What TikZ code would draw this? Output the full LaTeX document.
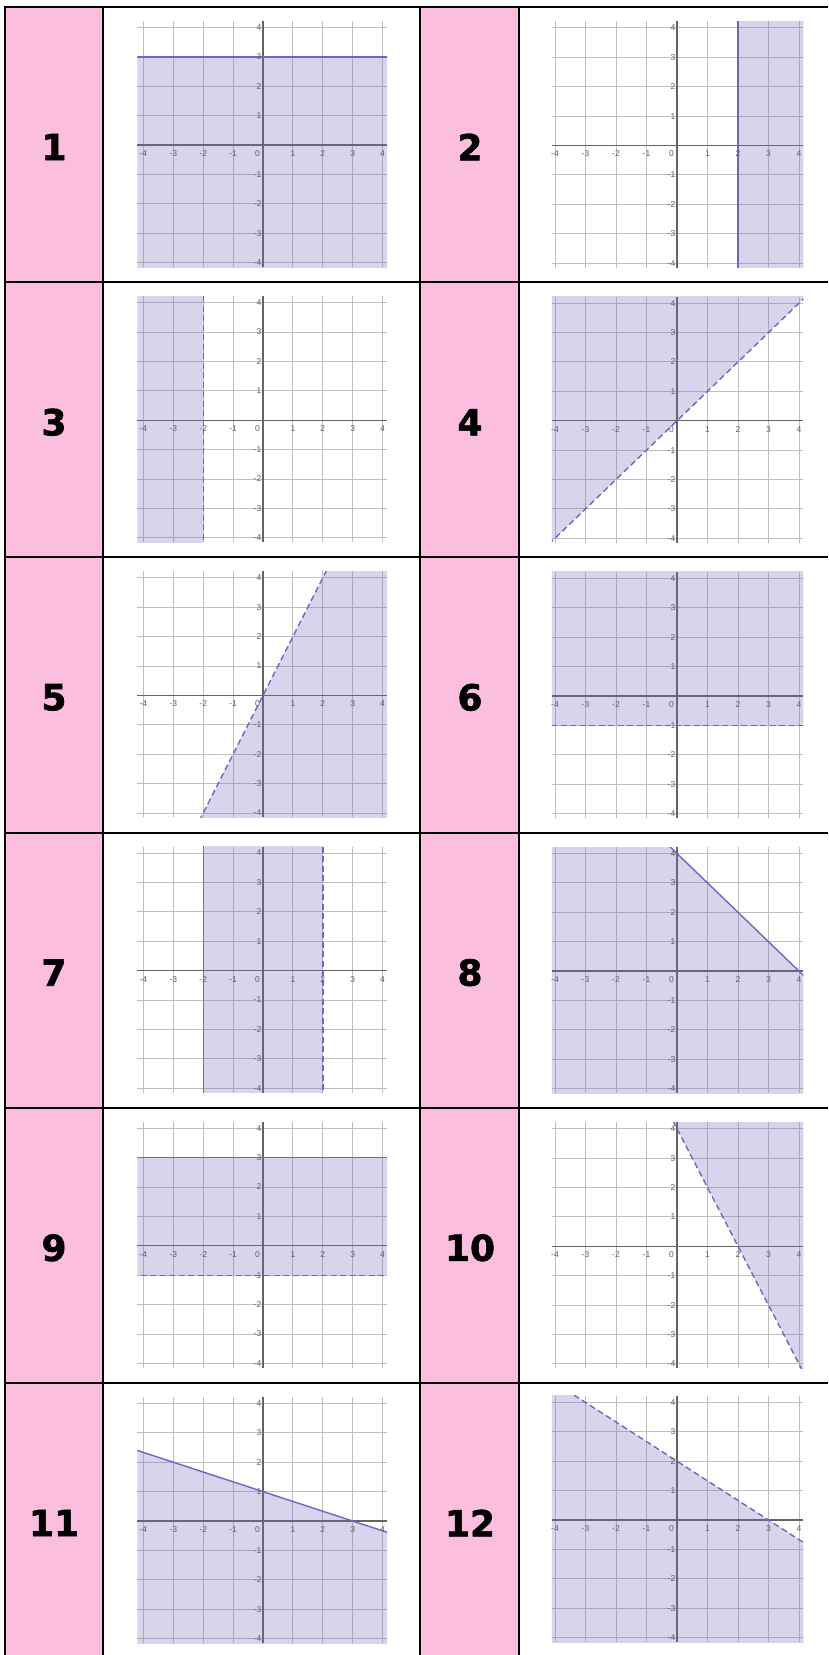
\documentclass[tikz,border=0pt]{standalone}
\usepackage{fontspec}
\setmainfont{Liberation Sans}
\newfontfamily\numfont{DejaVu Sans}[BoldFeatures={FakeBold=1.6}]
\definecolor{pinkc}{RGB}{251,190,222}
\definecolor{shadec}{RGB}{120,104,190}
\definecolor{linec}{RGB}{118,98,196}
\definecolor{gridc}{RGB}{190,190,190}
\definecolor{axisc}{RGB}{100,100,100}
\definecolor{tickc}{RGB}{95,95,95}
\tikzset{
  gridl/.style={draw=gridc,line width=0.9pt},
  axisl/.style={draw=axisc,line width=1.3pt},
  shade/.style={fill=shadec,fill opacity=0.28},
  solidb/.style={draw=linec,line width=1.4pt},
  dashb/.style={draw=linec,line width=1.4pt,dash pattern=on 6pt off 3.5pt},
  tick/.style={text=tickc,font=\fontsize{8.5}{9}\selectfont,inner sep=0pt},
  num/.style={font=\numfont\bfseries\fontsize{36}{40}\selectfont,inner sep=0pt},
  tline/.style={draw=black,line width=2pt},
}
\def\yb{-4.15}
\def\yt{4.22}
\newcommand\plotat[7]{%
\begin{scope}[shift={(#1pt,-#2pt)},x=#3pt,y=29.4pt]
  \def\xa{#4}\def\xb{#5}
  \foreach \k in {-4,...,4}{\draw[gridl] (\k,\yb) -- (\k,\yt);}
  \foreach \k in {-4,...,4}{\draw[gridl] (\xa,\k) -- (\xb,\k);}
  \draw[axisl] (\xa,0) -- (\xb,0);
  \draw[axisl] (0,\yb) -- (0,\yt);
  \begin{scope}
    \clip (\xa,\yb) rectangle (\xb,\yt);
    #6
    #7
  \end{scope}
  \foreach \k in {-4,-3,-2,-1,1,2,3,4}{
    \node[tick] at (\k,0) [yshift=-8.5pt] {\k};
    \node[tick,anchor=east] at (0,\k) [xshift=-1.5pt] {\k};
  }
  \node[tick,anchor=east] at (0,0) [xshift=-3pt,yshift=-8.5pt] {0};
\end{scope}}
\begin{document}
\begin{tikzpicture}[x=1pt,y=-1pt]
\useasboundingbox (0,0) rectangle (828,1655);
\fill[white] (0,0) rectangle (828,1655);
% pink columns
\fill[pinkc] (5,7) rectangle (103,1655);
\fill[pinkc] (420,7) rectangle (519,1655);
% numbers
\node[num] (n1) at (54,147) {1};
\node[num] (n2) at (470,147) {2};
\node[num] (n3) at (54,422.2) {3};
\node[num] (n4) at (470,422.2) {4};
\node[num] (n5) at (54,697.4) {5};
\node[num] (n6) at (470,697.4) {6};
\node[num] (n7) at (54,972.6) {7};
\node[num] (n8) at (470,972.6) {8};
\node[num] (n9) at (54,1247.8) {9};
\node[num] (n10) at (470,1247.8) {10};
\node[num] (n11) at (54,1523) {11};
\node[num] (n12) at (470,1523) {12};
% graphs
% 1: y <= 3
\plotat{263}{145}{29.9}{-4.2}{4.15}
  {\fill[shade] (-6,-6) rectangle (6,3);}
  {\draw[solidb] (-6,3) -- (6,3);}
% 2: x >= 2
\plotat{677}{145.5}{30.5}{-4.1}{4.14}
  {\fill[shade] (2,-6) rectangle (6,6);}
  {\draw[solidb] (2,-6) -- (2,6);}
% 3: x < -2
\plotat{263}{420.2}{29.9}{-4.2}{4.15}
  {\fill[shade] (-6,-6) rectangle (-2,6);}
  {\draw[dashb] (-2,-6) -- (-2,6);}
% 4: y > x
\plotat{677}{420.7}{30.5}{-4.1}{4.14}
  {\fill[shade] (-6,-6) -- (6,6) -- (-6,6) -- cycle;}
  {\draw[dashb] (-6,-6) -- (6,6);}
% 5: y < 2x
\plotat{263}{695.4}{29.9}{-4.2}{4.15}
  {\fill[shade] (-3,-6) -- (3,6) -- (6,6) -- (6,-6) -- cycle;}
  {\draw[dashb] (-3,-6) -- (3,6);}
% 6: y > -1
\plotat{677}{695.9}{30.5}{-4.1}{4.14}
  {\fill[shade] (-6,-1) rectangle (6,6);}
  {\draw[dashb] (-6,-1) -- (6,-1);}
% 7: -2 <= x < 2
\plotat{263}{970.6}{29.9}{-4.2}{4.15}
  {\fill[shade] (-2,-6) rectangle (2,6);}
  {\draw[solidb] (-2,-6) -- (-2,6); \draw[dashb] (2,-6) -- (2,6);}
% 8: y <= 4 - x
\plotat{677}{971.1}{30.5}{-4.1}{4.14}
  {\fill[shade] (-6,10) -- (6,-2) -- (6,-6) -- (-6,-6) -- cycle;}
  {\draw[solidb] (-6,10) -- (6,-2);}
% 9: -1 < y <= 3
\plotat{263}{1245.8}{29.9}{-4.2}{4.15}
  {\fill[shade] (-6,-1) rectangle (6,3);}
  {\draw[solidb] (-6,3) -- (6,3); \draw[dashb] (-6,-1) -- (6,-1);}
% 10: y > 4 - 2x
\plotat{677}{1246.3}{30.5}{-4.1}{4.14}
  {\fill[shade] (-1,6) -- (5,-6) -- (6,-6) -- (6,6) -- cycle;}
  {\draw[dashb] (-1,6) -- (5,-6);}
% 11: y <= 1 - x/3
\plotat{263}{1521}{29.9}{-4.2}{4.15}
  {\fill[shade] (-6,3) -- (6,-1) -- (6,-6) -- (-6,-6) -- cycle;}
  {\draw[solidb] (-6,3) -- (6,-1);}
% 12: y < 2 - 2x/3
\plotat{677}{1520}{30.5}{-4.1}{4.14}
  {\fill[shade] (-6,6) -- (6,-2) -- (6,-6) -- (-6,-6) -- cycle;}
  {\draw[dashb] (-6,6) -- (6,-2);}
% table lines
\draw[tline] (5,7) -- (5,1655);
\draw[tline] (103,7) -- (103,1655);
\draw[tline] (420,7) -- (420,1655);
\draw[tline] (519,7) -- (519,1655);
\foreach \yy in {7,282.2,557.4,832.6,1107.8,1383}{
  \draw[tline] (4,\yy) -- (828,\yy);
}
\end{tikzpicture}
\end{document}
